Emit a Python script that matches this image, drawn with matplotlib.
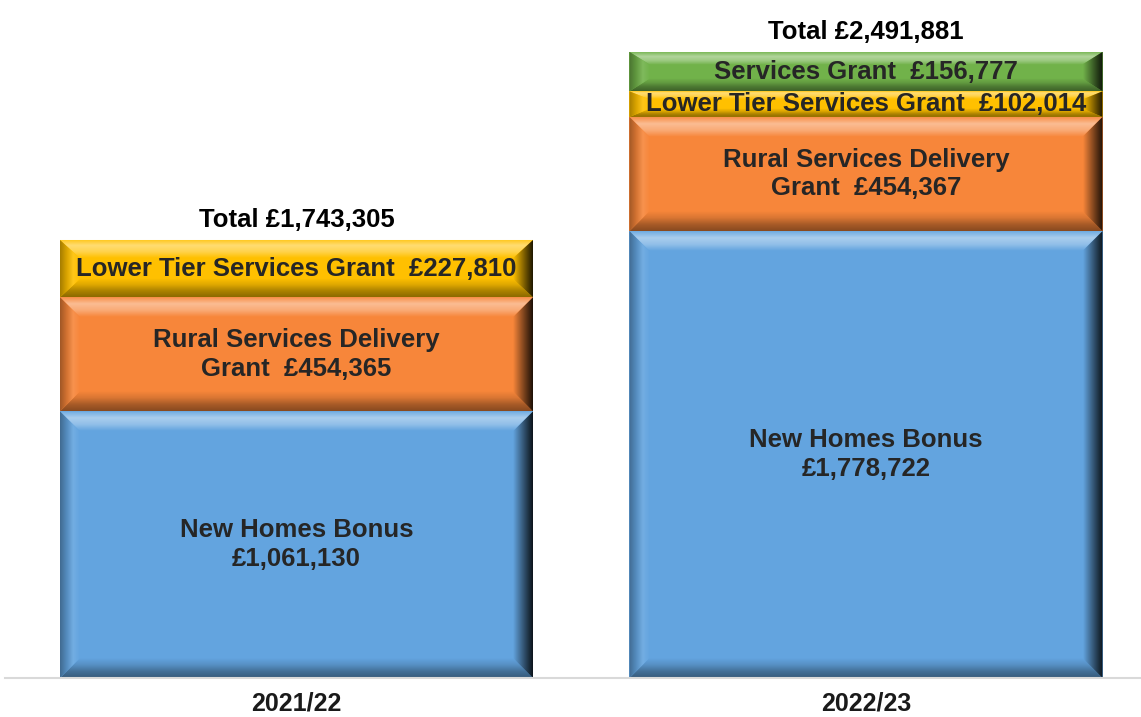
import numpy as np
import matplotlib.pyplot as plt
from matplotlib.patches import Polygon
from matplotlib.colors import to_rgb

years = ['2021/22', '2022/23']
new_homes_bonus = [1061130, 1778722]
rural_services = [454365, 454367]
lower_tier = [227810, 102014]
services_grant = [0, 156777]
totals = [1743305, 2491881]

series = [
    ('New Homes Bonus\n£{:,}', new_homes_bonus, '#63a4df'),
    ('Rural Services Delivery\nGrant  £{:,}', rural_services, '#f7863a'),
    ('Lower Tier Services Grant  £{:,}', lower_tier, '#ffc000'),
    ('Services Grant  £{:,}', services_grant, '#71b24a'),
]

plt.rcParams['font.family'] = ['Liberation Sans', 'DejaVu Sans']

W, H = 1141, 717
fig = plt.figure(figsize=(W / 100, H / 100), dpi=100)
ax = fig.add_axes([0, 39 / H, 1, 678 / H])

per_px = 3980.0           # pounds per pixel
ax.set_ylim(0, 678 * per_px)
x = np.arange(len(years))
unit = 569.5              # pixels between bar centres
ax.set_xlim(-296.5 / unit, 1 + (W - 866) / unit)
bw = 473 / unit
bx = 20 / unit
by = 20 * per_px


def mix(c, other, t):
    c = np.array(to_rgb(c))
    o = np.array(to_rgb(other))
    return c * (1 - t) + o * t


def grad_poly(pts, colors, direction):
    # colors go from the outer edge to the inner face
    pts = np.array(pts)
    xmin, xmax = pts[:, 0].min(), pts[:, 0].max()
    ymin, ymax = pts[:, 1].min(), pts[:, 1].max()
    n = 64
    stops = np.linspace(0, 1, len(colors))
    t = np.linspace(0, 1, n)
    cols = np.array(colors)
    g = np.stack([np.interp(t, stops, cols[:, k]) for k in range(3)], axis=1)
    if direction == 'top':
        img = g[:, None, :]
    elif direction == 'bottom':
        img = g[::-1][:, None, :]
    elif direction == 'left':
        img = g[None, :, :]
    else:
        img = g[::-1][None, :, :]
    poly = Polygon(pts, closed=True, transform=ax.transData)
    im = ax.imshow(img, extent=(xmin, xmax, ymin, ymax), origin='upper',
                   aspect='auto', interpolation='bilinear', zorder=2)
    im.set_clip_path(poly)


def bevel_bar(xc, b, h, color):
    x0, x1 = xc - bw / 2, xc + bw / 2
    y0, y1 = b, b + h
    dy = min(by, h * 0.32)
    dx = bx
    base = np.array(to_rgb(color))
    ax.add_patch(Polygon([(x0, y0), (x1, y0), (x1, y1), (x0, y1)],
                         closed=True, facecolor=base, edgecolor='none', zorder=1))
    grad_poly([(x0, y1), (x1, y1), (x1 - dx, y1 - dy), (x0 + dx, y1 - dy)],
              [mix(color, 'white', 0.08), mix(color, 'white', 0.45),
               mix(color, 'white', 0.3), base], 'top')
    grad_poly([(x0, y0), (x1, y0), (x1 - dx, y0 + dy), (x0 + dx, y0 + dy)],
              [mix(color, 'black', 0.45), mix(color, 'black', 0.32),
               mix(color, 'black', 0.12), base], 'bottom')
    grad_poly([(x0, y0), (x0 + dx, y0 + dy), (x0 + dx, y1 - dy), (x0, y1)],
              [mix(color, 'black', 0.35), mix(color, 'black', 0.15),
               mix(color, 'white', 0.1), base], 'left')
    grad_poly([(x1, y0), (x1 - dx, y0 + dy), (x1 - dx, y1 - dy), (x1, y1)],
              [mix(color, 'black', 0.88), mix(color, 'black', 0.6),
               mix(color, 'black', 0.3), base], 'right')


bottoms = np.zeros(len(years))
for fmt, vals, color in series:
    for i, v in enumerate(vals):
        if v <= 0:
            continue
        bevel_bar(x[i], bottoms[i], v, color)
        ax.text(x[i], bottoms[i] + v / 2, fmt.format(v), ha='center', va='center',
                fontsize=18.5, fontweight='bold', color='#262626',
                linespacing=1.25, zorder=5)
    bottoms += np.array(vals)

for i, t in enumerate(totals):
    ax.text(x[i], t + 8 * per_px, 'Total £{:,}'.format(t), ha='center', va='bottom',
            fontsize=18.5, fontweight='bold', color='black', zorder=5)

ax.set_xticks(x)
ax.set_xticklabels(years, fontsize=18, fontweight='bold', color='#1a1a1a')
ax.tick_params(axis='x', length=0, pad=10)
ax.set_yticks([])
for s in ['top', 'left', 'right']:
    ax.spines[s].set_visible(False)
ax.spines['bottom'].set_color('#d9d9d9')
ax.spines['bottom'].set_linewidth(1.5)
ax.spines['bottom'].set_bounds(-291 / unit, 1 + (W - 866) / unit)

fig.savefig('out.png', dpi=100)
